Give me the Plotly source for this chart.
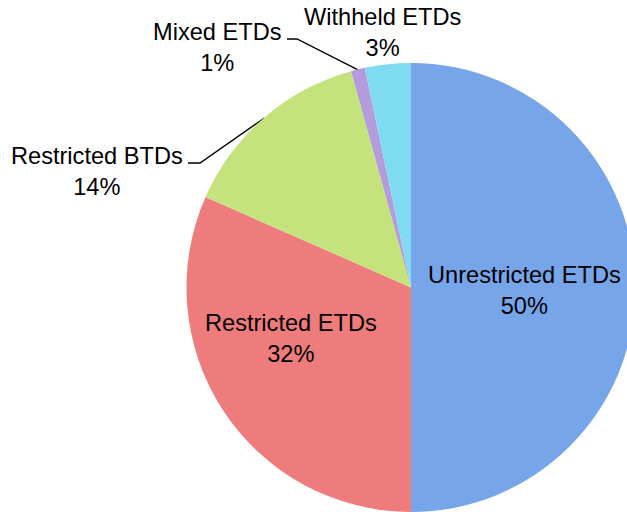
import math
import plotly.graph_objects as go

# ---- data ----
labels = ["Unrestricted ETDs", "Restricted ETDs", "Restricted BTDs", "Mixed ETDs", "Withheld ETDs"]
values = [50.0, 31.6, 14.1, 1.0, 3.3]
pct_text = ["50%", "32%", "14%", "1%", "3%"]
colors = ["#76A5EA", "#EF7C7C", "#C4E37D", "#B39BDC", "#7FDBF1"]

# ---- geometry (pixels) ----
W, H = 640, 512
CX, CY, R = 411.0, 287.5, 224.5
FONT = dict(family="Liberation Sans, Arial, sans-serif", size=23.6, color="black")

dom_x = [(CX - R) / W, (CX + R) / W]
dom_y = [(H - CY - R) / H, (H - CY + R) / H]

fig = go.Figure()
fig.add_trace(go.Pie(
    labels=labels, values=values, sort=False, direction="clockwise", rotation=0,
    marker=dict(colors=colors, line=dict(width=0)),
    textinfo="none", hoverinfo="label+percent", showlegend=False,
    domain=dict(x=dom_x, y=dom_y),
))

# slice mid angles (clockwise from 12 o'clock)
total = sum(values)
mids = []
cum = 0.0
for v in values:
    mids.append((cum + v / 2) / total * 2 * math.pi)
    cum += v

def edge_point(i, frac=1.0):
    a = mids[i]
    return CX + frac * R * math.sin(a), CY - frac * R * math.cos(a)

# leader lines: (slice index, tail point, elbow point)
leaders = [(2, (188, 163), (200, 163)), (3, (287, 39), (297, 39))]
for i, tail, elbow in leaders:
    hx, hy = edge_point(i, 0.998)
    fig.add_trace(go.Scatter(
        x=[tail[0], elbow[0], hx], y=[tail[1], elbow[1], hy],
        mode="lines", line=dict(color="black", width=1.4),
        hoverinfo="skip", showlegend=False, xaxis="x", yaxis="y",
    ))

# label anchors (pixels)
label_pos = [(524, 290), (291, 338), (97, 171), (217, 47), (382, 32)]
for lab, pt, (x, y) in zip(labels, pct_text, label_pos):
    fig.add_annotation(x=x, y=y, xref="x", yref="y", text=f"{lab}<br>{pt}",
                       showarrow=False, font=FONT, xanchor="center", yanchor="middle",
                       align="center")

fig.update_layout(
    width=W, height=H,
    margin=dict(l=0, r=0, t=0, b=0),
    paper_bgcolor="white", plot_bgcolor="rgba(0,0,0,0)",
    xaxis=dict(range=[0, W], visible=False, domain=[0, 1], fixedrange=True),
    yaxis=dict(range=[H, 0], visible=False, domain=[0, 1], fixedrange=True),
    showlegend=False,
)

fig.write_html("out.html", config={"displayModeBar": False},
               post_script="document.body.style.margin='0';document.body.style.overflow='hidden';")
